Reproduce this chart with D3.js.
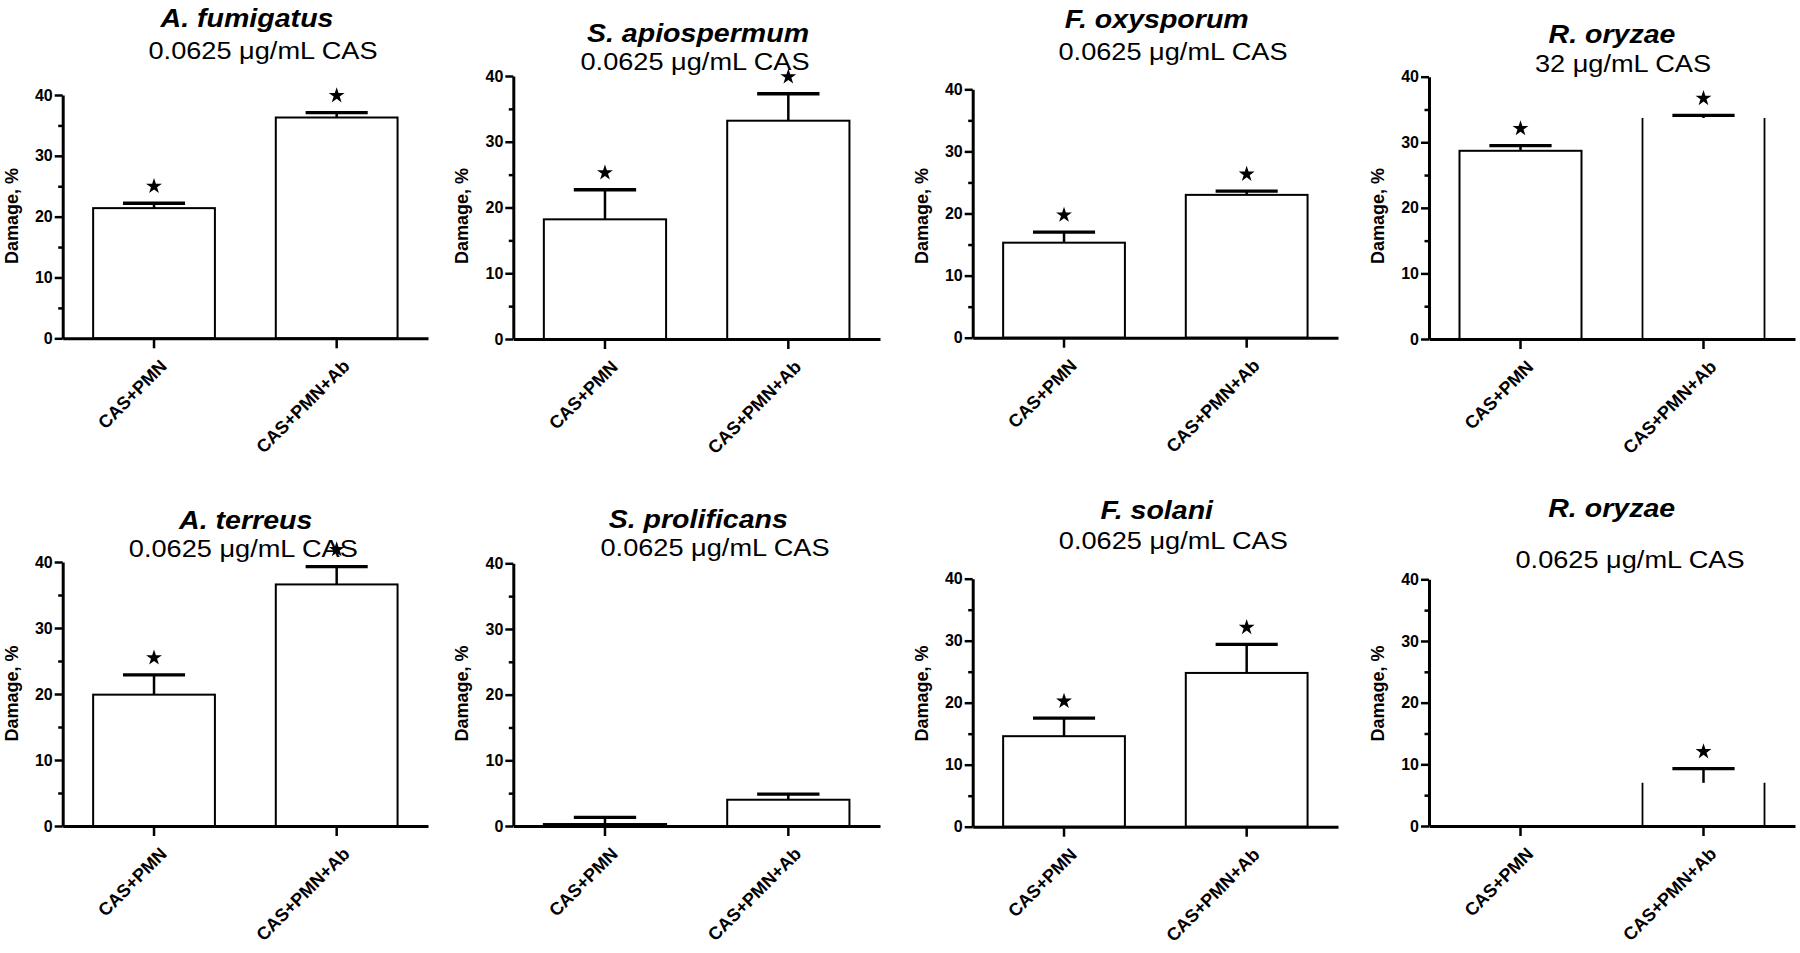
<!DOCTYPE html>
<html>
<head>
<meta charset="utf-8">
<script src="https://cdn.jsdelivr.net/npm/d3@7"></script>
<style>
  html, body { margin: 0; padding: 0; background: #fff; }
  svg { display: block; }
  text { font-family: "Liberation Sans", Arial, Helvetica, sans-serif; fill: #000; }
</style>
</head>
<body>
<svg id="chart" width="1800" height="953"></svg>
<script>
// ---------------- DATA ----------------
const species = ["A. fumigatus", "S. apiospermum", "F. oxysporum", "R. oryzae",
                 "A. terreus", "S. prolificans", "F. solani", "R. oryzae"];
const concentrations = ["0.0625 μg/mL CAS", "0.0625 μg/mL CAS", "0.0625 μg/mL CAS", "32 μg/mL CAS",
                        "0.0625 μg/mL CAS", "0.0625 μg/mL CAS", "0.0625 μg/mL CAS", "0.0625 μg/mL CAS"];
const categories = ["CAS+PMN", "CAS+PMN+Ab"];
const meanPMN   = [21.4, 18.2, 15.3, 28.7, 19.9, 0.3, 14.6, null];
const meanPMNAb = [36.3, 33.2, 23.0, 33.7, 36.6, 4.0, 24.8, 7.0];
const semPMN    = [0.8, 4.5, 1.7, 0.8, 3.0, 1.0, 2.9, null];
const semPMNAb  = [0.8, 4.1, 0.6, 0.4, 2.7, 0.85, 4.6, 2.3];
const sigPMN    = [true, true, true, true, true, false, true, false];
const sigPMNAb  = [true, true, true, true, true, false, true, true];
const yMajorTicks = [0, 10, 20, 30, 40];
const yMinorTicks = [5, 15, 25, 35];
const yDomain = [0, 40];
const yLabel = "Damage, %";
// bars drawn without a top edge in the original figure (panel index, category index)
const openTopBars = [[3, 1], [7, 1]];

// ---------------- LAYOUT ----------------
const layout = [
  {x0: 62.7,  x1: 428,  yTop: 95,    yBot: 338.3, tX: 247,    tY: 27,    sX: 263,    sY: 59.3,  lY: 216},
  {x0: 513.3, x1: 880,  yTop: 76,    yBot: 339,   tX: 698,    tY: 41.5,  sX: 695,    sY: 70,    lY: 216},
  {x0: 972.7, x1: 1338, yTop: 89.3,  yBot: 337.7, tX: 1156.7, tY: 28.3,  sX: 1173,   sY: 60,    lY: 216},
  {x0: 1429,  x1: 1795, yTop: 76.7,  yBot: 339,   tX: 1612,   tY: 43,    sX: 1623,   sY: 71.7,  lY: 216},
  {x0: 62.7,  x1: 428,  yTop: 562,   yBot: 826,   tX: 245.7,  tY: 528.5, sX: 243.3,  sY: 556.7, lY: 693.5},
  {x0: 513.3, x1: 880,  yTop: 563.3, yBot: 826,   tX: 698.3,  tY: 527.7, sX: 715,    sY: 556,   lY: 693.5},
  {x0: 972.7, x1: 1338, yTop: 578.7, yBot: 826.7, tX: 1156.7, tY: 518.7, sX: 1173.3, sY: 549.3, lY: 693.5},
  {x0: 1429,  x1: 1795, yTop: 579.3, yBot: 826,   tX: 1611.7, tY: 516.7, sX: 1630,   sY: 567.7, lY: 693.5}
];

const svg = d3.select("#chart");
const star = d3.symbol().type(d3.symbolStar).size(78);

species.forEach((sp, i) => {
  const L = layout[i];
  const g = svg.append("g");

  const y = d3.scaleLinear().domain(yDomain).range([L.yBot, L.yTop]);
  const x = d3.scaleBand().domain(categories).range([L.x0, L.x1])
              .paddingInner(1 / 3).paddingOuter(1 / 6);
  const bw = x.bandwidth();

  const means = [meanPMN[i], meanPMNAb[i]];
  const sems = [semPMN[i], semPMNAb[i]];
  const sigs = [sigPMN[i], sigPMNAb[i]];
  const rows = categories.map((c, k) => ({
    cat: c, k, mean: means[k], sem: sems[k], sig: sigs[k],
    open: openTopBars.some(p => p[0] === i && p[1] === k)
  })).filter(d => d.mean !== null);

  // bars
  g.selectAll("rect.bar").data(rows.filter(d => !d.open)).join("rect")
    .attr("class", "bar")
    .attr("x", d => x(d.cat))
    .attr("y", d => y(d.mean))
    .attr("width", bw)
    .attr("height", d => y(0) - y(d.mean))
    .attr("fill", "#fff").attr("stroke", "#000").attr("stroke-width", 2);

  g.selectAll("path.openbar").data(rows.filter(d => d.open)).join("path")
    .attr("class", "openbar")
    .attr("d", d => `M${x(d.cat)},${y(0)}V${y(d.mean)}M${x(d.cat) + bw},${y(d.mean)}V${y(0)}`)
    .attr("fill", "none").attr("stroke", "#000").attr("stroke-width", 1.8);

  // error bars
  const eb = rows.filter(d => d.sem !== null);
  g.selectAll("line.stem").data(eb).join("line")
    .attr("x1", d => x(d.cat) + bw / 2).attr("x2", d => x(d.cat) + bw / 2)
    .attr("y1", d => y(d.mean)).attr("y2", d => y(d.mean + d.sem))
    .attr("stroke", "#000").attr("stroke-width", 2.5);
  g.selectAll("line.cap").data(eb).join("line")
    .attr("x1", d => x(d.cat) + bw / 2 - bw * 0.255).attr("x2", d => x(d.cat) + bw / 2 + bw * 0.255)
    .attr("y1", d => y(d.mean + d.sem)).attr("y2", d => y(d.mean + d.sem))
    .attr("stroke", "#000").attr("stroke-width", 3.3);

  // significance stars
  g.selectAll("path.star").data(eb.filter(d => d.sig)).join("path")
    .attr("transform", d => `translate(${x(d.cat) + bw / 2},${y(d.mean + d.sem) - 17})`)
    .attr("d", star).attr("fill", "#000");

  // y axis: major
  const yAx = g.append("g").attr("transform", `translate(${L.x0},0)`)
    .call(d3.axisLeft(y).tickValues(yMajorTicks).tickSize(8).tickSizeOuter(0).tickPadding(2).tickFormat(d3.format("d")));
  yAx.select(".domain").attr("stroke-width", 3);
  yAx.selectAll(".tick line").attr("stroke-width", 2.5);
  yAx.selectAll(".tick text").attr("font-size", 16).attr("font-weight", "bold")
     .attr("font-family", "'Liberation Sans', Arial, sans-serif");
  // y axis: minor
  const yMin = g.append("g").attr("transform", `translate(${L.x0},0)`)
    .call(d3.axisLeft(y).tickValues(yMinorTicks).tickSize(4.5).tickFormat(""));
  yMin.select(".domain").remove();
  yMin.selectAll(".tick line").attr("stroke-width", 2.5);

  // x axis
  const xAx = g.append("g").attr("transform", `translate(0,${L.yBot})`)
    .call(d3.axisBottom(x).tickSize(10).tickSizeOuter(0).tickFormat(""));
  xAx.select(".domain").attr("stroke-width", 3);
  xAx.selectAll(".tick line").attr("stroke-width", 2.5);

  // category labels rotated
  g.selectAll("text.cat").data(categories).join("text")
    .attr("class", "cat")
    .attr("transform", c => `translate(${x(c) + bw / 2 + 14},${L.yBot + 29}) rotate(-45)`)
    .attr("text-anchor", "end")
    .attr("font-size", 18).attr("font-weight", "bold")
    .text(c => c);

  // y axis title
  g.append("text")
    .attr("transform", `translate(${L.x0 - 45},${L.lY}) rotate(-90)`)
    .attr("text-anchor", "middle")
    .attr("font-size", 18).attr("font-weight", "bold")
    .text(yLabel);

  // titles
  g.append("text")
    .attr("transform", `translate(${L.tX},${L.tY}) scale(1.12,1)`)
    .attr("text-anchor", "middle")
    .attr("font-size", 25.5).attr("font-weight", "bold").attr("font-style", "italic")
    .text(sp);
  g.append("text")
    .attr("transform", `translate(${L.sX},${L.sY}) scale(1.1,1)`)
    .attr("text-anchor", "middle")
    .attr("font-size", 24.7)
    .text(concentrations[i]);
});
</script>
</body>
</html>
